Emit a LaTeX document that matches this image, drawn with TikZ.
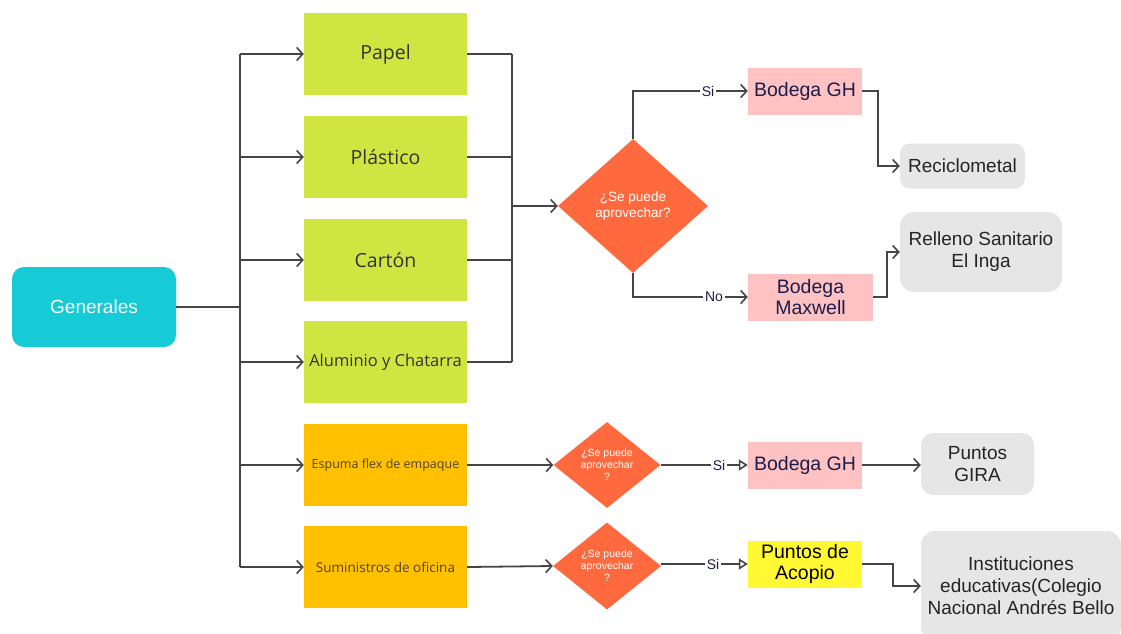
\documentclass[tikz,border=0pt]{standalone}
\usepackage{fontspec}
\setmainfont{Liberation Sans}
\newfontfamily\osans{Open Sans}
\usetikzlibrary{arrows.meta,shapes.geometric}
\definecolor{cyanbox}{HTML}{17CBD6}
\definecolor{greenbox}{HTML}{CFE642}
\definecolor{orangebox}{HTML}{FFC000}
\definecolor{diam}{HTML}{FE6A3E}
\definecolor{pinkbox}{HTML}{FFC2C2}
\definecolor{graybox}{HTML}{E6E6E6}
\definecolor{yellowbox}{HTML}{FFF833}
\definecolor{navy}{HTML}{1C1C4A}
\definecolor{linec}{HTML}{454545}
\definecolor{txt}{HTML}{333333}
\tikzset{
  gbox/.style={rectangle, fill=greenbox, minimum width=163pt, minimum height=82pt, inner sep=0pt, text=txt, font=\osans},
  obox/.style={rectangle, fill=orangebox, minimum width=163pt, minimum height=82pt, inner sep=0pt, text=txt!80!brown, font=\osans},
  dia/.style={diamond, fill=diam, inner sep=0pt, text=white, align=center},
  pbox/.style={rectangle, fill=pinkbox, minimum width=114pt, minimum height=47pt, inner sep=0pt, text=navy, align=center, font=\fontsize{19.5}{21}\selectfont},
  rbox/.style={rectangle, rounded corners=10pt, fill=graybox, inner sep=0pt, text=txt!70!black, align=center, font=\fontsize{19}{22}\selectfont},
  lbl/.style={inner sep=2pt, text=navy, font=\fontsize{14}{16}\selectfont},
  conn/.style={draw=linec, line width=1.8pt},
  arr/.style={conn, -{Straight Barb[length=6pt,width=13pt,line width=1.6pt]}},
  tri/.style={conn, -{Triangle[open,length=9pt,width=11pt,line width=1.6pt]}},
}
\begin{document}
\begin{tikzpicture}[x=1pt,y=-1pt]
\clip (0,0) rectangle (1121,633);
\fill[white] (0,0) rectangle (1121,633);

% nodes
\node[rectangle, rounded corners=12pt, fill=cyanbox, minimum width=164pt, minimum height=80pt, text=white, font=\fontsize{19}{21}\selectfont] (gen) at (94,307) {Generales};

\node[gbox, font=\osans\fontsize{19.5}{22}\selectfont] (papel) at (385.5,54) {Papel};
\node[gbox, font=\osans\fontsize{19.5}{22}\selectfont] (plas) at (385.5,157) {Plástico};
\node[gbox, font=\osans\fontsize{19.5}{22}\selectfont] (carton) at (385.5,260) {Cartón};
\node[gbox, font=\osans\fontsize{16.5}{18}\selectfont] (alum) at (385.5,362) {Aluminio y Chatarra};
\node[obox, font=\osans\fontsize{12.5}{14}\selectfont] (esp) at (385.5,465) {Espuma flex de empaque};
\node[obox, font=\osans\fontsize{13.5}{15}\selectfont] (sumi) at (385.5,567) {Suministros de oficina};

\node[dia, minimum width=150pt, minimum height=134pt, font=\fontsize{13.5}{16}\selectfont] (d1) at (633,206) {¿Se puede\\aprovechar?};
\node[dia, minimum width=107pt, minimum height=86pt, font=\fontsize{10.5}{12}\selectfont] (d2) at (607,465) {¿Se puede\\aprovechar\\?};
\node[dia, minimum width=108pt, minimum height=87pt, font=\fontsize{10.5}{12}\selectfont] (d3) at (607,566) {¿Se puede\\aprovechar\\?};

\node[pbox] (bgh1) at (805,91) {Bodega GH};
\node[pbox, minimum width=125pt] (mx) at (810.5,297) {Bodega\\Maxwell};
\node[pbox] (bgh2) at (805,465) {Bodega GH};
\node[pbox, fill=yellowbox, text=black] (acop) at (805,564) {Puntos de\\Acopio};

\node[rbox, minimum width=125pt, minimum height=45pt] (recic) at (962.5,166) {Reciclometal};
\node[rbox, minimum width=162pt, minimum height=80pt, rounded corners=14pt] (rell) at (981,252) {Relleno Sanitario\\El Inga};
\node[rbox, minimum width=113pt, minimum height=62pt, rounded corners=12pt] (gira) at (977.5,464) {Puntos\\GIRA};
\node[rbox, minimum width=200pt, minimum height=110pt, rounded corners=14pt] (inst) at (1021,586) {Instituciones\\educativas(Colegio\\Nacional Andrés Bello};

\node[lbl] (si1) at (708,91) {Si};
\node[lbl] (no1) at (714,297) {No};
\node[lbl] (si2) at (719,465) {Si};
\node[lbl] (si3) at (713,564) {Si};

% trunk
\coordinate (tr) at (240,307);
\draw[conn] (gen.east) -- (tr);
\draw[conn] (tr |- papel) -- (tr |- sumi);
\foreach \n in {papel,plas,carton,alum,esp,sumi}{
  \draw[arr] (tr |- \n) -- (\n.west);
}

% collector
\coordinate (col) at (512,206);
\foreach \n in {papel,plas,carton,alum}{
  \draw[conn] (\n.east) -- (col |- \n);
}
\draw[conn] (col |- papel) -- (col |- alum);
\draw[arr] (col) -- (d1.west);

% diamond 1 branches
\draw[conn] (d1.north) |- (si1.west);
\draw[arr] (si1.east) -- (bgh1.west);
\draw[conn] (d1.south) |- (no1.west);
\draw[arr] (no1.east) -- (mx.west);
\draw[arr] (bgh1.east) -- ++(16,0) |- (recic.west);
\draw[arr] (mx.east) -- ++(14,0) |- (rell.west);

% lower rows
\draw[arr] (esp.east) -- (d2.west);
\draw[arr] (sumi.east) -- (d3.west);
\draw[conn] (d2.east) -- (si2.west);
\draw[tri] (si2.east) -- (bgh2.west);
\draw[conn] (d3.east |- si3) -- (si3.west);
\draw[tri] (si3.east) -- (acop.west);
\draw[arr] (bgh2.east) -- (gira.west |- bgh2);
\draw[arr] (acop.east) -- ++(31,0) |- (inst.west);
\end{tikzpicture}
\end{document}
